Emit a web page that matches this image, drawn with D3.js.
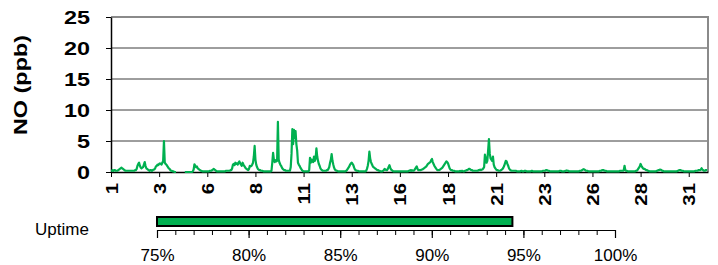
<!DOCTYPE html>
<html><head><meta charset="utf-8">
<script src="https://cdn.jsdelivr.net/npm/d3@7"></script>
<style>body{margin:0;background:#fff} svg{display:block}</style>
</head><body><svg id="c" width="718" height="265"></svg>
<script>
// Hourly NO (ppb), one row per day (31 days x 24 h); null = missing
const noValues = [
0.2,0.2,0.3,0.2,0.3,0.3,0.2,0.2,0.2,0.3,0.4,0.5,0.6,0.7,0.6,0.5,0.4,0.3,0.2,0.2,0.2,0.2,0.2,0.2,
0.2,0.2,0.2,0.2,0.2,0.2,0.3,0.3,0.5,1.0,1.3,1.5,1.0,0.7,0.6,0.7,0.8,1.2,1.6,1.0,0.6,0.5,0.4,0.3,
0.2,0.3,0.3,0.2,0.3,0.4,0.4,0.6,0.9,1.0,1.2,1.1,1.3,1.4,1.3,1.2,1.5,1.8,5.0,1.5,1.3,1.2,1.0,0.8,
0.6,0.5,0.3,0.2,0.2,0.1,0.1,0.0,0.0,0.0,null,null,null,null,null,null,null,null,null,null,0.0,0.0,0.0,0.0,
0.0,0.0,0.0,0.0,0.0,0.0,0.1,0.4,1.25,1.0,0.8,0.9,0.6,0.5,0.4,0.3,0.2,0.2,0.1,0.1,0.1,0.1,0.1,0.1,
0.1,0.1,0.1,0.2,0.2,0.2,0.3,0.4,0.5,0.4,0.3,0.2,0.1,0.1,0.1,0.1,0.1,0.1,0.1,0.1,0.1,0.1,0.1,0.2,
0.2,0.2,0.2,0.2,0.2,0.3,0.3,0.6,1.2,1.3,1.1,1.5,1.3,1.4,1.2,1.5,1.7,1.4,1.2,1.0,1.5,1.2,1.0,0.8,
0.6,0.5,0.4,0.3,0.5,1.0,0.9,1.0,1.2,1.5,2.5,4.2,2.0,1.2,0.8,0.5,0.4,0.3,0.3,0.2,0.2,0.2,0.1,0.1,
0.1,0.1,0.1,0.1,0.1,0.1,0.1,0.1,0.2,1.5,3.1,2.0,1.6,1.9,1.7,1.8,8.1,2.0,1.5,1.2,1.0,0.7,0.5,0.4,
0.3,0.3,0.2,0.2,0.2,0.2,0.2,0.2,0.8,3.0,6.9,4.5,6.8,5.5,6.6,4.5,3.5,1.5,1.2,1.0,0.7,0.5,0.3,0.2,
0.1,0.1,0.1,0.1,0.1,0.1,0.1,0.3,2.3,1.5,2.0,1.7,1.6,2.5,1.8,2.2,3.8,2.5,1.8,1.3,1.0,0.6,0.4,0.3,
0.2,0.2,0.2,0.2,0.2,0.3,0.3,0.5,0.8,1.5,2.0,2.9,1.8,1.2,0.7,0.4,0.3,0.2,0.2,0.1,0.1,0.1,0.1,0.1,
0.1,0.1,0.1,0.1,0.1,0.2,0.3,0.5,0.7,0.9,1.2,1.4,1.5,1.3,1.1,0.7,0.4,0.3,0.2,0.2,0.2,0.1,0.1,0.1,
0.1,0.1,0.1,0.1,0.1,0.1,0.2,0.5,1.0,1.8,3.3,2.2,1.6,1.3,1.0,0.8,0.7,0.6,0.5,0.4,0.3,0.3,0.2,0.2,
0.1,0.1,0.1,0.2,0.3,0.5,0.4,0.3,0.3,0.5,0.8,1.1,0.7,0.4,0.3,0.2,0.1,0.1,0.1,0.1,0.1,0.1,0.1,0.1,
0.1,0.1,0.1,0.1,0.1,0.1,0.1,0.1,0.1,0.1,0.1,0.2,0.2,0.3,0.2,0.3,0.2,0.2,0.3,0.5,0.7,0.9,0.5,0.3,
0.3,0.3,0.3,0.4,0.4,0.5,0.6,0.7,0.8,0.9,1.1,1.3,1.4,1.5,1.6,1.9,2.1,1.6,1.3,1.0,0.8,0.6,0.4,0.3,
0.3,0.3,0.4,0.5,0.6,0.7,0.9,1.1,1.3,1.5,1.7,1.6,1.4,1.0,0.6,0.4,0.3,0.3,0.2,0.2,0.2,0.1,0.1,0.1,
0.1,0.1,0.1,0.2,0.1,0.2,0.2,0.1,0.1,0.2,0.2,0.3,0.3,0.4,0.5,0.5,0.4,0.3,0.3,0.2,0.2,0.2,0.2,0.2,
0.2,0.2,0.3,0.3,0.4,0.3,0.4,0.4,0.6,0.8,2.8,2.2,1.5,1.8,3.5,5.3,3.0,2.2,2.0,1.8,2.5,1.2,0.8,0.6,
0.4,0.3,0.3,0.2,0.2,0.2,0.3,0.4,0.5,0.7,1.0,1.4,1.8,1.7,1.3,1.0,0.6,0.4,0.3,0.2,0.2,0.2,0.2,0.2,
0.2,0.2,0.1,0.1,0.1,0.1,0.1,0.2,0.2,0.1,0.1,0.2,0.2,0.2,0.1,0.1,0.1,0.1,0.1,0.1,0.2,0.2,0.1,0.1,
0.1,0.1,0.1,0.1,0.1,0.1,0.1,0.1,0.1,0.1,0.2,0.2,0.2,0.2,0.3,0.3,0.25,0.2,0.2,0.1,0.1,0.1,0.1,0.1,
0.1,0.1,0.1,0.1,0.1,0.1,0.1,0.2,0.2,0.2,0.1,0.1,0.1,0.1,0.2,0.2,0.25,0.2,0.2,0.1,0.1,0.1,0.1,0.1,
0.1,0.1,0.1,0.1,0.1,0.1,0.1,0.1,0.2,0.2,0.2,0.3,0.4,0.45,0.4,0.3,0.2,0.2,0.2,0.1,0.1,0.1,0.1,0.1,
0.1,0.1,0.1,0.1,0.1,0.1,0.1,0.1,0.1,0.2,0.2,0.2,0.3,0.3,0.3,0.2,0.2,0.2,0.1,0.1,0.1,0.1,0.1,0.1,
0.1,0.1,0.1,0.1,0.1,0.1,0.1,0.1,0.1,0.1,0.2,0.2,0.2,0.2,0.2,0.3,1.0,0.3,0.2,0.2,0.1,0.1,0.1,0.1,
0.1,0.1,0.1,0.1,0.1,0.1,0.2,0.2,0.3,0.5,0.7,0.9,1.3,1.0,0.8,0.6,0.5,0.5,0.4,0.3,0.3,0.2,0.2,0.1,
0.1,0.1,0.1,0.1,0.1,0.1,0.1,0.1,0.2,0.2,0.3,0.3,0.4,0.35,0.3,0.2,0.2,0.1,0.1,0.1,0.1,0.1,0.1,0.1,
0.1,0.1,0.1,0.1,0.1,0.1,0.1,0.1,0.1,0.1,0.2,0.2,0.3,0.3,0.3,0.2,0.2,0.2,0.1,0.1,0.1,0.1,0.1,0.1,
0.1,0.1,0.1,0.1,0.1,0.1,0.1,0.1,0.2,0.2,0.2,0.2,0.3,0.3,0.3,0.4,0.6,0.4,0.3,0.2,0.2,0.3,0.3,0.3
];
const xTickLabels = ["1","3","6","8","11","13","16","18","21","23","26","28","31"];
const hoursPerTick = 60;
const yTickValues = [0,5,10,15,20,25];
const yTitle = "NO (ppb)";
const uptimeLabel = "Uptime";
const uptimeValue = [94.4];
const uptimeMajorTicks = [75,80,85,90,95,100];

const svg = d3.select("#c");
const BOLD = "'Liberation Sans', Arial, sans-serif";

function stretch(sel, f){
  sel.each(function(){
    const L = this.getComputedTextLength();
    d3.select(this).attr("textLength", L*f).attr("lengthAdjust","spacingAndGlyphs");
  });
}

const x = d3.scaleLinear().domain([0, noValues.length]).range([111, 708]);
const y = d3.scaleLinear().domain([0, 25]).range([172, 17]);

// gridlines
svg.append("g").selectAll("line").data(yTickValues.filter(v => v > 0 && v < 25)).join("line")
  .attr("x1", x(0)).attr("x2", x(noValues.length))
  .attr("y1", d => y(d)).attr("y2", d => y(d))
  .attr("stroke", "#3c3c3c").attr("stroke-width", 1);

// plot border top/right (gray)
svg.append("path")
  .attr("d", `M${x(0)},${y(25)}H${x(noValues.length)}V${y(0)}`)
  .attr("fill","none").attr("stroke","#8a8a8a").attr("stroke-width",2);

// y axis
const yAxis = svg.append("g").attr("transform", `translate(${x(0)},0)`)
  .call(d3.axisLeft(y).tickValues(yTickValues).tickSize(5).tickSizeOuter(0).tickPadding(16));
yAxis.select(".domain").attr("stroke","#000").attr("stroke-width",1.5);
yAxis.selectAll(".tick line").attr("stroke","#000");
yAxis.selectAll("text").attr("font-family", BOLD).attr("font-weight","bold")
  .attr("font-size", 18).attr("fill","#000").attr("dy","0.36em");
stretch(yAxis.selectAll("text"), 1.3);

// x axis
const xTickPos = xTickLabels.map((_, i) => i * hoursPerTick);
const xAxis = svg.append("g").attr("transform", `translate(0,${y(0)})`)
  .call(d3.axisBottom(x).tickValues(xTickPos).tickFormat((d, i) => xTickLabels[i]).tickSize(5).tickSizeOuter(0));
xAxis.select(".domain").attr("stroke","#000").attr("stroke-width",1.5);
xAxis.selectAll(".tick line").attr("stroke","#000");
xAxis.selectAll("text")
  .attr("font-family", BOLD).attr("font-weight","bold").attr("font-size",17).attr("fill","#000")
  .attr("text-anchor","end").attr("dy",null).attr("y",0)
  .attr("transform","translate(6,11) rotate(-90)");
stretch(xAxis.selectAll("text"), 1.2);

// data line
const line = d3.line().defined(d => d != null).x((d, i) => x(i)).y(d => y(d));
svg.append("path").datum(noValues).attr("d", line)
  .attr("fill","none").attr("stroke","#00b050").attr("stroke-width",2.2).attr("stroke-linejoin","round");

// y title
const yt = svg.append("text").attr("transform","translate(27,85) rotate(-90)")
  .attr("text-anchor","middle").attr("font-family",BOLD).attr("font-weight","bold")
  .attr("font-size",18).attr("fill","#000").text(yTitle);
stretch(yt, 1.3);

// Uptime bar
const u = d3.scaleLinear().domain([75, 100]).range([157, 615]);
svg.append("text").attr("x", 35).attr("y", 235).attr("font-family", BOLD)
  .attr("font-size", 17).attr("fill","#000").text(uptimeLabel);
svg.selectAll("rect.up").data(uptimeValue).join("rect").attr("class","up")
  .attr("x", u(75)).attr("y", 217).attr("width", d => u(d) - u(75)).attr("height", 9)
  .attr("fill","#00b050").attr("stroke","#000").attr("stroke-width",2);
const uAxis = svg.append("g").attr("transform","translate(0,230)");
uAxis.call(d3.axisBottom(u).tickValues(d3.range(75, 101, 1)).tickSize(5).tickSizeOuter(0).tickFormat(""));
uAxis.selectAll(".tick line").attr("stroke","#000");
uAxis.select(".domain").attr("stroke","#000").attr("stroke-width",1.2);
const uMaj = svg.append("g").attr("transform","translate(0,230)");
uMaj.call(d3.axisBottom(u).tickValues(uptimeMajorTicks).tickSize(8).tickSizeOuter(0).tickPadding(11).tickFormat(d => d + "%"));
uMaj.select(".domain").remove();
uMaj.selectAll(".tick line").attr("stroke","#000").attr("stroke-width",1.2);
uMaj.selectAll("text").attr("font-family",BOLD).attr("font-size",17).attr("fill","#000");
</script></body></html>
